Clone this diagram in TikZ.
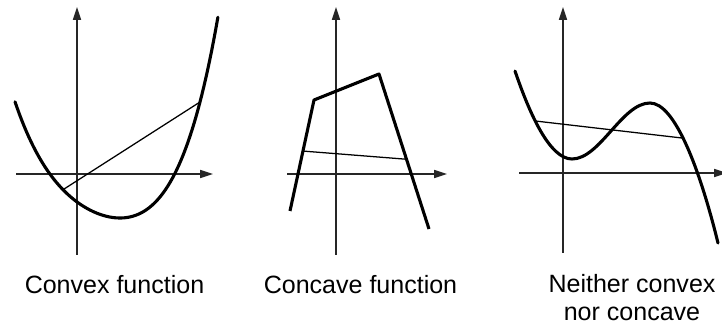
\documentclass[tikz,border=0pt]{standalone}
\usepackage{fontspec}
\setmainfont{Liberation Sans}
\usetikzlibrary{arrows.meta, calc}
\tikzset{
  axis/.style={-{Triangle[length=3.2mm, width=2mm]}, line width=1.1pt, draw=black!85},
  curve/.style={line width=2.2pt, line join=round, line cap=round},
  chord/.style={line width=0.9pt},
  caption/.style={font=\fontsize{17.8}{19.4}\selectfont, align=center, anchor=base, inner sep=0pt},
}

\begin{document}
\begin{tikzpicture}[x=0.025cm, y=-0.025cm]
  \useasboundingbox (0,0) rectangle (722,327);
  % axes of the three panels
  \foreach \n/\ox/\oy/\xl/\xr/\yb in {a/77/174/16/213/255, b/336/174/287/447/255, c/563/173/519/727/253} {
    \coordinate (\n O) at (\ox,\oy);
    \draw[axis] (\xl,\oy) -- (\xr,\oy);
    \draw[axis] (\ox,\yb) -- (\ox,7);
  }
  % convex
  \draw[curve] plot[domain=-1.05:0.98, samples=90, smooth]
    ({120+100*\x}, {218-\x*\x*(100+55.4*\x+57.7*\x*\x)});
  \coordinate (a1) at (63,189.7);
  \coordinate (a2) at (200,102);
  \draw[chord] (a1) -- (a2);
  % concave
  \coordinate (b1) at (290,211);
  \coordinate (b2) at (314,100);
  \coordinate (b3) at (379,74);
  \coordinate (b4) at (429,229);
  \draw[curve, line cap=butt] (b1) -- (b2) -- (b3) -- (b4);
  \draw[chord] ($(b1)!0.54!(b2)$) -- ($(b3)!0.55!(b4)$);
  % neither
  \draw[curve] (515,71) .. controls (530,115) and (550,159) .. coordinate[pos=0.4] (c1) (572,159)
    .. controls (600,159) and (622,103) .. (650,103)
    .. controls (675,103) and (700,170) .. coordinate[pos=0.45] (c2) (718,243);
  \draw[chord] (c1) -- (c2);
  % captions
  \node[caption] (capa) at (114.5,293) {Convex function};
  \node[caption] (capb) at (360.5,293) {Concave function};
  \node[caption] (capc) at (632,320) {Neither convex\\nor concave};
\end{tikzpicture}
\end{document}
